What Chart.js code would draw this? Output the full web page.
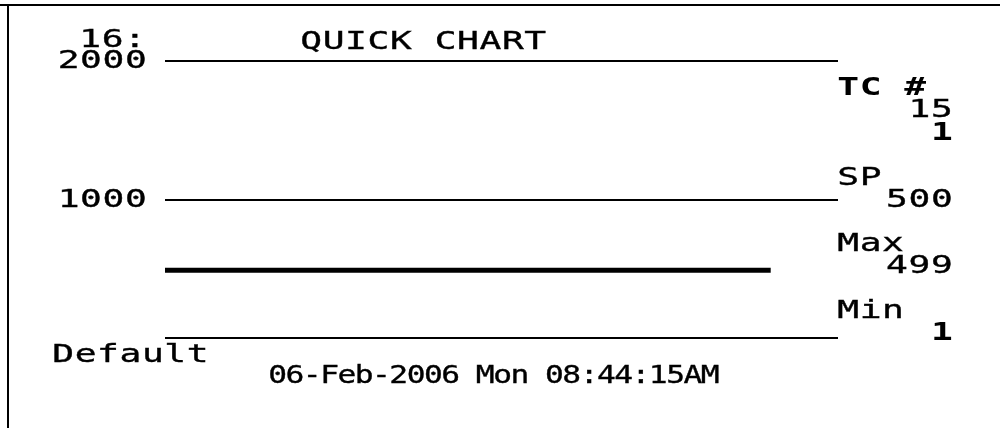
<!DOCTYPE html>
<html>
<head>
<meta charset="utf-8">
<script src="https://cdn.jsdelivr.net/npm/chart.js@4/dist/chart.umd.min.js"></script>
<style>
  html, body { margin: 0; padding: 0; background: #fff; }
  canvas { display: block; }
</style>
</head>
<body>
<canvas id="myChart" width="1000" height="428"></canvas>
<script>
// chart data
const sampleTimes = [0, 10, 20, 30, 40, 50, 60, 70, 80, 90];
const tcValues = [490, 490, 490, 490, 490, 490, 490, 490, 490, 490];
const yTicks = [2000, 1000];
const yMin = 0;
const yMax = 2000;
const xMax = 100;

// panel texts
const chartTitle = 'QUICK CHART';
const channelLabel = '16:';
const tcNumber = ['15', '1'];
const setPoint = '500';
const maxValue = '499';
const minValue = '1';
const profileName = 'Default';
const timeStamp = '06-Feb-2006 Mon 08:44:15AM';

const FONT = '"DejaVu Sans Mono", monospace';

// draws monospaced "LCD" text, one char per cell, stretched sideways
function lcdText(ctx, str, x, base, cell, bold, sx) {
    ctx.save();
    ctx.fillStyle = '#000';
    ctx.strokeStyle = '#000';
    ctx.lineWidth = 0.35;
    ctx.font = (bold ? 'bold ' : '') + '25px ' + FONT;
    ctx.textAlign = 'center';
    ctx.textBaseline = 'alphabetic';
    for (let i = 0; i < str.length; i++) {
        const cx = x + (i + 0.5) * cell;
        ctx.save();
        ctx.translate(cx, base);
        ctx.scale(sx || 1.45, 1);
        ctx.fillText(str[i], 0, 0);
        if (!bold) ctx.strokeText(str[i], 0, 0);
        ctx.restore();
    }
    ctx.restore();
}

function lcdRight(ctx, str, right, base, cell, bold) {
    lcdText(ctx, str, right - str.length * cell, base, cell, bold);
}

const panelPlugin = {
    id: 'panel',
    beforeDraw(chart) {
        const ctx = chart.ctx;
        ctx.save();
        ctx.fillStyle = '#fff';
        ctx.fillRect(0, 0, chart.width, chart.height);
        ctx.fillStyle = '#000';
        ctx.fillRect(0, 4, chart.width, 2);
        ctx.fillRect(7, 4, 2, chart.height);
        ctx.restore();
    },
    afterDraw(chart) {
        const ctx = chart.ctx;
        const y = chart.scales.y;
        const cell = 22.4;

        lcdText(ctx, chartTitle, 300, 49, cell, false);
        lcdText(ctx, channelLabel, 79, 47, cell, false);
        yTicks.forEach(v => {
            lcdRight(ctx, String(v), 147, y.getPixelForValue(v) + 7, cell, false);
        });

        lcdText(ctx, 'TC', 837, 95, cell, true);
        lcdText(ctx, '#', 904, 95, cell, true);
        lcdRight(ctx, tcNumber[0], 953, 117, cell, false);
        lcdRight(ctx, tcNumber[1], 953, 140, cell, true);

        lcdText(ctx, 'SP', 837, 185, cell, false);
        lcdRight(ctx, setPoint, 953, 207, cell, false);

        lcdText(ctx, 'Max', 837, 251, cell, false);
        lcdRight(ctx, maxValue, 953, 273, cell, false);

        lcdText(ctx, 'Min', 837, 318, cell, false);
        lcdRight(ctx, minValue, 953, 340, cell, true);

        lcdText(ctx, profileName, 52, 362, cell, false);
        lcdText(ctx, timeStamp, 269, 383, 17.3, false, 1.25);
    }
};

const ctx = document.getElementById('myChart');
new Chart(ctx, {
    type: 'line',
    data: {
        datasets: [{
            label: 'TC 15',
            data: sampleTimes.map((t, i) => ({ x: t, y: tcValues[i] })),
            borderColor: '#000',
            borderWidth: 5,
            borderCapStyle: 'butt',
            pointRadius: 0,
            tension: 0,
            fill: false
        }]
    },
    options: {
        responsive: false,
        animation: false,
        devicePixelRatio: 1,
        layout: {
            padding: { left: 165, right: 162, top: 61, bottom: 90 }
        },
        plugins: {
            legend: { display: false },
            tooltip: { enabled: false },
            title: { display: false }
        },
        scales: {
            x: {
                type: 'linear',
                min: 0,
                max: xMax,
                display: false
            },
            y: {
                min: yMin,
                max: yMax,
                afterBuildTicks: scale => {
                    scale.ticks = [yMin, ...yTicks].map(v => ({ value: v }));
                },
                ticks: { display: false },
                border: { display: false },
                grid: {
                    color: '#000',
                    lineWidth: 2,
                    drawTicks: false,
                    tickLength: 0
                }
            }
        }
    },
    plugins: [panelPlugin]
});
</script>
</body>
</html>
